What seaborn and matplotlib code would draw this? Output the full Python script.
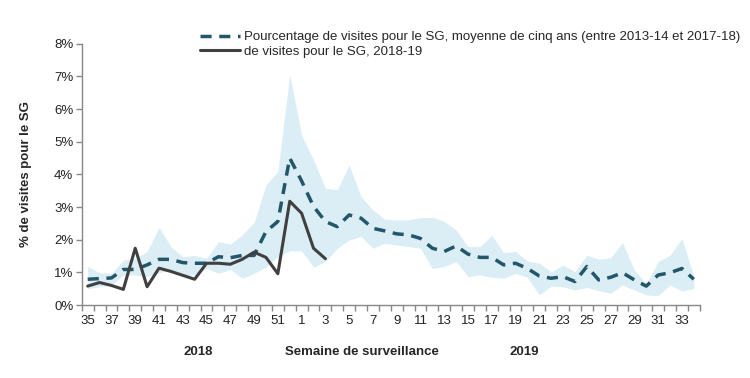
import matplotlib
matplotlib.use("Agg")
import matplotlib.pyplot as plt
import seaborn as sns
import pandas as pd
import numpy as np

# surveillance weeks, 2018-19 season
weeks = list(range(35, 53)) + list(range(1, 35))

# five-year average (2013-14 to 2017-18), % of visits
avg_pct = [0.79, 0.81, 0.83, 1.09, 1.09, 1.23, 1.40, 1.40, 1.30, 1.28,
           1.28, 1.48, 1.45, 1.52, 1.52, 2.25, 2.56, 4.50, 3.80, 3.02,
           2.56, 2.40, 2.76, 2.66, 2.35, 2.27, 2.18, 2.15, 2.04, 1.74,
           1.64, 1.81, 1.56, 1.46, 1.46, 1.23, 1.28, 1.12, 0.89, 0.82,
           0.87, 0.72, 1.18, 0.77, 0.85, 0.99, 0.77, 0.58, 0.92, 0.99,
           1.12, 0.79]

# min / max of the five previous seasons
band_low = [0.50, 0.56, 0.61, 0.92, 0.92, 0.87, 0.99, 1.07, 0.92, 0.92,
            1.12, 0.97, 1.09, 0.82, 0.97, 1.16, 1.48, 1.66, 1.66, 1.16,
            1.33, 1.74, 1.99, 2.10, 1.74, 1.89, 1.84, 1.79, 1.74, 1.12,
            1.18, 1.33, 0.87, 0.92, 0.85, 0.82, 0.97, 0.85, 0.31, 0.58,
            0.56, 0.46, 0.54, 0.44, 0.36, 0.61, 0.46, 0.31, 0.29, 0.61,
            0.43, 0.51]
band_high = [1.18, 0.99, 0.97, 1.38, 1.43, 1.64, 2.38, 1.79, 1.48, 1.52,
             1.43, 1.94, 1.87, 2.15, 2.53, 3.68, 4.09, 7.06, 5.20, 4.45,
             3.58, 3.53, 4.29, 3.32, 2.91, 2.63, 2.61, 2.61, 2.68, 2.69,
             2.56, 2.30, 1.79, 1.79, 2.13, 1.61, 1.64, 1.35, 1.28, 1.02,
             1.23, 1.02, 1.53, 1.40, 1.45, 1.91, 1.07, 0.66, 1.33, 1.53,
             2.04, 0.88]

# current season 2018-19 (up to week 3)
cur_pct = [0.58, 0.69, 0.60, 0.48, 1.74, 0.56, 1.13, 1.03, 0.91, 0.79,
           1.28, 1.28, 1.25, 1.40, 1.62, 1.46, 0.96, 3.18, 2.81, 1.74,
           1.42]

avg_label = "Pourcentage de visites pour le SG, moyenne de cinq ans (entre 2013-14 et 2017-18)"
cur_label = "de visites pour le SG, 2018-19"

idx = np.arange(len(weeks))
df_avg = pd.DataFrame({"i": idx, "pct": avg_pct, "low": band_low, "high": band_high})
df_cur = pd.DataFrame({"i": idx[:len(cur_pct)], "pct": cur_pct})

sns.set_style("white")
plt.rcParams["font.family"] = ["Liberation Sans", "DejaVu Sans"]

fig = plt.figure(figsize=(7.5, 3.78), dpi=100)
ax = fig.add_axes([0.109, 0.193, 0.824, 0.691])

ax.fill_between(df_avg["i"], df_avg["low"], df_avg["high"], color="#dbeef5", lw=0, zorder=1)
sns.lineplot(data=df_avg, x="i", y="pct", ax=ax, color="#23566a", lw=2.5,
             dashes=False, linestyle=(0, (3.2, 2.2)), label=avg_label, zorder=3)
sns.lineplot(data=df_cur, x="i", y="pct", ax=ax, color="#404040", lw=2.2,
             label=cur_label, zorder=4)

ax.set_xlim(-0.5, len(weeks) - 0.5)
ax.set_ylim(0, 8)
ax.set_yticks(range(0, 9))
ax.set_yticklabels([f"{v}%" for v in range(0, 9)], fontsize=9.5, color="#222222")

# tick marks between categories, labels on every second week
ax.set_xticks(np.arange(-0.5, len(weeks), 1.0))
ax.set_xticklabels([])
ax.set_xticks(idx[::2], minor=True)
ax.set_xticklabels([str(w) for w in weeks[::2]], minor=True, fontsize=9.5, color="#222222")
ax.tick_params(axis="x", which="major", length=4, color="#888888", width=1, direction="out", bottom=True)
ax.tick_params(axis="x", which="minor", length=0, pad=7, bottom=True)
ax.tick_params(axis="y", length=4, color="#888888", width=1, direction="out", left=True, pad=2)

for s in ["top", "right"]:
    ax.spines[s].set_visible(False)
for s in ["left", "bottom"]:
    ax.spines[s].set_color("#888888")
    ax.spines[s].set_linewidth(1)

ax.set_xlabel("")
ax.set_ylabel("% de visites pour le SG", fontsize=9.5, fontweight="bold", labelpad=16)

fig.text(362 / 750, 1 - 352 / 378, "Semaine de surveillance", ha="center", va="center",
         fontsize=9.5, fontweight="bold")
fig.text(198 / 750, 1 - 352 / 378, "2018", ha="center", va="center",
         fontsize=9.5, fontweight="bold")
fig.text(524 / 750, 1 - 352 / 378, "2019", ha="center", va="center",
         fontsize=9.5, fontweight="bold")

leg = ax.legend(loc="lower left", bbox_to_anchor=(200 / 750, 1 - 58 / 378),
                bbox_transform=fig.transFigure, frameon=False, fontsize=9.5,
                handlelength=3.0, handletextpad=0.3, labelspacing=0.2,
                borderpad=0, borderaxespad=0)

fig.savefig("out.png", dpi=100)
